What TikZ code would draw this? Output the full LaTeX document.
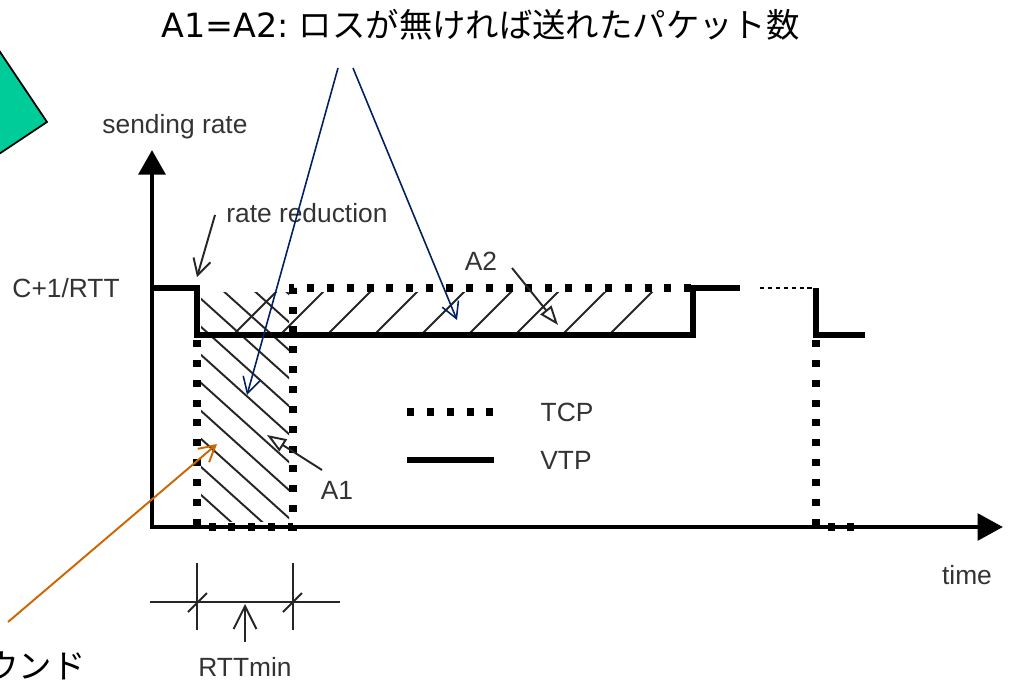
\documentclass[tikz,border=0pt]{standalone}
\usepackage{fontspec}
\setmainfont{Liberation Sans}
\newfontfamily\jpfont{Noto Sans CJK JP}
\newfontfamily\notefont{DejaVu Sans}
\usetikzlibrary{arrows.meta}
\definecolor{navyblue}{RGB}{0,32,96}
\definecolor{calloutgreen}{RGB}{0,204,153}
\definecolor{burntorange}{RGB}{204,102,0}
\tikzset{
    axisline/.style={line width=2.8pt,{Triangle[length=14pt,width=15pt]}-{Triangle[length=14.5pt,width=15pt]}},
    vtpline/.style={line width=3.7pt},
    tcpline/.style={line width=4pt,dash pattern=on 4pt off 7.3pt},
    thinline/.style={line width=1.1pt,black!85},
    hatchline/.style={line width=1.1pt,black!85},
    lbl/.style={font=\fontsize{15}{17}\selectfont,text=black!80,inner sep=0pt},
    jplbl/.style={font=\jpfont\fontsize{19}{22}\selectfont,inner sep=0pt},
    pointer/.style={line width=0.9pt,-{Straight Barb[length=9pt,width=10pt]}},
    areapointer/.style={thinline,-{Triangle[open,length=11pt,width=8pt]}}
}
\begin{document}
\begin{tikzpicture}[x=0.02cm,y=-0.02cm]
            \useasboundingbox (0,0) rectangle (1014,682);
            \clip (0,0) rectangle (1014,682);
            \draw[fill=calloutgreen,line width=1pt](-10,37)--(47,122)--(-10,160)--cycle;
            \begin{scope}
                \clip (201,292) rectangle (289,521);
                \foreach \k in {-6,...,7}
                    \draw[hatchline]({190},{345+28*\k})--++(120,108);
            \end{scope}
            \begin{scope}
                \clip (199,292) rectangle (690,331);
                \foreach \k in {-2,...,6}
                    \draw[hatchline]({327+47*\k},335)--++(47,-47);
            \end{scope}
            \draw[axisline](152,150)--(152,527)--(1003,527);
            \draw[tcpline](197,340)--(197,527)--(293,527)--(293,288)--(693,288);
            \draw[vtpline](150,288)--(197,288)--(197,335)--(693,335)--(693,288)--(740,288);
            \draw[line width=1.1pt,dash pattern=on 2.5pt off 2pt](760,288)--(813,288);
            \draw[vtpline](816,288)--(816,335)--(865,335);
            \draw[tcpline](816,340)--(816,527)--(865,527);
            \node[lbl] (sendrate) at (175,127){sending rate};
            \node[lbl,anchor=east] (cplus) at (120,288){C+1/RTT};
            \node[lbl] (timelbl) at (967,575){time};
            \draw[tcpline](407,412)--(494,412);
            \node[lbl] (tcplbl) at (567,412){TCP};
            \draw[vtpline](407,460)--(494,460);
            \node[lbl] (vtplbl) at (566,460){VTP};
            \node[lbl,anchor=west] (ratered) at (226,213){rate reduction};
            \coordinate (ratetail) at (215,215);
            \coordinate (dropcorner) at (197,277);
            \draw[pointer,thinline](ratetail)--(dropcorner);
            \node[lbl] (atwo) at (481,261){A2};
            \coordinate (atwotail) at (512,268);
            \coordinate (atwotip) at (558,325);
            \draw[areapointer](atwotail)--(atwotip);
            \node[lbl] (aone) at (337,490){A1};
            \coordinate (aonetail) at (322,470);
            \coordinate (aonetip) at (267,435);
            \draw[areapointer](aonetail)--(aonetip);
            \draw[thinline](150,602)--(340,602);
            \draw[thinline](197,563)--(197,630);
            \draw[thinline](293,563)--(293,630);
            \draw[thinline](188,612)--(207,593);
            \draw[thinline](283,612)--(302,593);
            \coordinate (rtttail) at (245,642);
            \coordinate (rtttip) at (245,604);
            \draw[thinline,-{Straight Barb[length=13pt,width=13pt]}](rtttail)--(rtttip);
            \node[lbl] (rttmin) at (245,667){RTTmin};
            \node[jplbl,anchor=east] (lossnote) at (800,25){{\notefont A1=A2:} ロスが無ければ送れたパケット数};
            \coordinate (forkleft) at (338,68);
            \coordinate (forkright) at (353,68);
            \coordinate (aonearea) at (247,395);
            \coordinate (atwoarea) at (457,320);
            \draw[pointer,navyblue](forkleft)--(aonearea);
            \draw[pointer,navyblue](forkright)--(atwoarea);
            \node[jplbl,anchor=east] (roundnote) at (86,666){ウンド};
            \coordinate (orangetail) at (8,622);
            \coordinate (orangetip) at (217,444);
            \draw[pointer,burntorange,line width=1.1pt](orangetail)--(orangetip);
        \end{tikzpicture}
\end{document}
